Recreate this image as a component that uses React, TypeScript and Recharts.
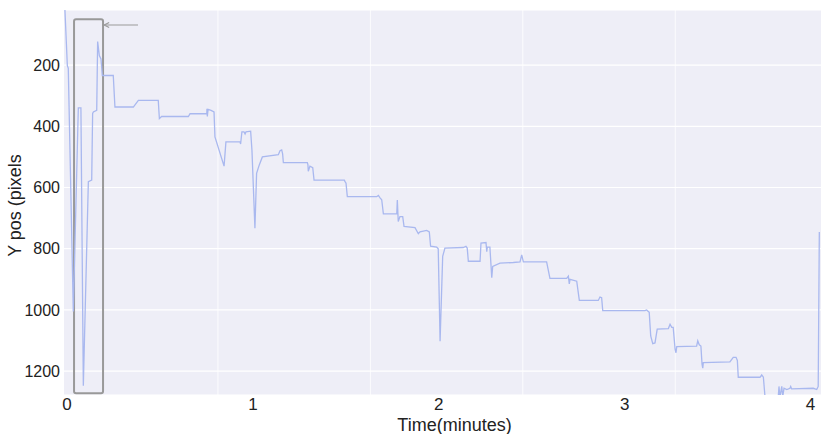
import React from 'react';
import { LineChart, Line, XAxis, YAxis, CartesianGrid, ReferenceLine, ReferenceArea, Label } from 'recharts';

const timeMin = [
  -0.011, 0.002, 0.007, 0.034, 0.061, 0.075, 0.088, 0.115, 0.133, 0.138, 0.142, 0.160, 0.165, 0.174, 0.183, 0.190,
  0.249, 0.258, 0.357, 0.384, 0.491, 0.497, 0.509, 0.653, 0.662, 0.752, 0.753, 0.755, 0.759, 0.775, 0.791, 0.796,
  0.845, 0.855, 0.931, 0.934, 0.941, 0.952, 0.958, 0.963, 0.988, 0.995, 1.011, 1.020, 1.034, 1.051, 1.137, 1.146,
  1.155, 1.160, 1.164, 1.293, 1.296, 1.298, 1.307, 1.322, 1.329, 1.492, 1.495, 1.501, 1.508, 1.666, 1.675, 1.684,
  1.693, 1.702, 1.774, 1.777, 1.782, 1.791, 1.806, 1.813, 1.872, 1.890, 1.899, 1.935, 1.949, 1.956, 1.989, 1.997,
  2.007, 2.021, 2.033, 2.132, 2.146, 2.153, 2.159, 2.222, 2.227, 2.254, 2.258, 2.261, 2.275, 2.285, 2.290, 2.329,
  2.401, 2.437, 2.446, 2.455, 2.580, 2.598, 2.688, 2.697, 2.702, 2.706, 2.742, 2.756, 2.858, 2.867, 2.876, 2.882,
  3.109, 3.118, 3.132, 3.140, 3.151, 3.163, 3.175, 3.235, 3.244, 3.253, 3.261, 3.271, 3.276, 3.280, 3.387, 3.393,
  3.401, 3.410, 3.416, 3.420, 3.423, 3.566, 3.584, 3.599, 3.606, 3.611, 3.728, 3.737, 3.746, 3.755, 3.826, 3.830,
  3.835, 3.845, 3.850, 3.857, 3.872, 3.889, 3.893, 3.898, 4.015, 4.033, 4.041, 4.047,
];

const yPos = [
  20, 202, 210, 1005, 340, 340, 1248, 581, 576, 358, 353, 348, 123, 169, 180, 234,
  234, 337, 337, 315, 315, 375, 368, 368, 359, 359, 343, 368, 345, 348, 353, 435,
  530, 451, 451, 458, 418, 418, 425, 418, 416, 478, 733, 554, 527, 500, 493, 480,
  477, 490, 519, 519, 525, 547, 530, 535, 576, 576, 580, 586, 630, 630, 626, 634,
  640, 686, 686, 641, 711, 695, 695, 727, 731, 751, 745, 740, 745, 792, 795, 800,
  1102, 825, 798, 796, 792, 798, 841, 841, 782, 780, 810, 795, 795, 895, 858, 847,
  845, 843, 820, 843, 843, 897, 897, 890, 915, 900, 906, 969, 969, 958, 960, 1002,
  1002, 1000, 1008, 1085, 1110, 1108, 1063, 1061, 1047, 1057, 1057, 1128, 1140, 1120, 1118, 1101,
  1114, 1118, 1177, 1190, 1172, 1170, 1155, 1155, 1165, 1220, 1220, 1212, 1220, 1285, 1285, 1250,
  1285, 1250, 1285, 1256, 1260, 1256, 1250, 1258, 1256, 1260, 1250, 745,
];

const xTicks = [0, 1, 2, 3, 4];
const yTicks = [200, 400, 600, 800, 1000, 1200];
const gridX = [0.812, 1.632, 2.452, 3.272];

const boxX = [0.038, 0.194];
const boxY = [50, 1272];
const arrowFrom = { x: 0.382, y: 69 };
const arrowTo = { x: 0.2, y: 69 };

const data = timeMin.map((t, i) => ({ t, y: yPos[i] }));

const ArrowShape = (props: any) => {
  const { x1, y1, x2, y2 } = props;
  const dir = x2 < x1 ? 1 : -1;
  return (
    <g>
      <line x1={x1} y1={y1} x2={x2} y2={y2} stroke="#9a9a9a" strokeWidth={1.2} />
      <path
        d={`M${x2 + dir * 5},${y2 - 2.5} L${x2},${y2} L${x2 + dir * 5},${y2 + 2.5}`}
        fill="none"
        stroke="#9a9a9a"
        strokeWidth={1.2}
      />
    </g>
  );
};

const fontFamily = '"Liberation Sans", Arial, sans-serif';

export default function App() {
  return (
    <div style={{ position: 'absolute', left: 0, top: 0, width: 821, height: 434, background: '#fff' }}>
      <LineChart width={821} height={434} data={data} margin={{ top: 10, right: 0, bottom: 0, left: 0 }}>
        <CartesianGrid fill="#EEEEF7" stroke="#ffffff" strokeWidth={1.2} vertical={false} />
        {gridX.map((g) => (
          <ReferenceLine key={g} x={g} stroke="#ffffff" strokeWidth={1} strokeOpacity={0.8} />
        ))}
        <XAxis
          dataKey="t"
          type="number"
          domain={[-0.016, 4.056]}
          ticks={xTicks}
          allowDataOverflow
          axisLine={false}
          tickLine={false}
          tickSize={0}
          tickMargin={3}
          height={39}
          tick={{ fill: '#222', fontSize: 17, fontFamily }}
        >
          <Label
            content={(p: any) => {
              const vb = p.viewBox;
              return (
                <text x={vb.x + vb.width / 2 + 12} y={vb.y + 36} textAnchor="middle" fill="#222" fontSize={18} fontFamily={fontFamily}>
                  Time(minutes)
                </text>
              );
            }}
          />
        </XAxis>
        <YAxis
          type="number"
          reversed
          domain={[20, 1278]}
          ticks={yTicks}
          allowDataOverflow
          axisLine={false}
          tickLine={false}
          tickSize={0}
          tickMargin={4}
          width={64}
          tick={{ fill: '#222', fontSize: 16, fontFamily }}
        >
          <Label
            content={(p: any) => {
              const vb = p.viewBox;
              const cx = 15;
              const cy = vb.y + vb.height / 2 + 3;
              return (
                <text x={cx} y={cy} transform={`rotate(-90 ${cx} ${cy})`} textAnchor="middle" dominantBaseline="central" fill="#222" fontSize={18} fontFamily={fontFamily}>
                  Y pos (pixels
                </text>
              );
            }}
          />
        </YAxis>
        <Line
          type="linear"
          dataKey="y"
          stroke="#a9b8ef"
          strokeWidth={1.3}
          dot={false}
          isAnimationActive={false}
        />
        <ReferenceArea
          x1={boxX[0]}
          x2={boxX[1]}
          y1={boxY[0]}
          y2={boxY[1]}
          fill="none"
          stroke="#999999"
          strokeWidth={2}
          fillOpacity={0}
          radius={2}
          ifOverflow="visible"
        />
        <ReferenceLine segment={[arrowFrom, arrowTo]} shape={ArrowShape} ifOverflow="visible" />
      </LineChart>
    </div>
  );
}
